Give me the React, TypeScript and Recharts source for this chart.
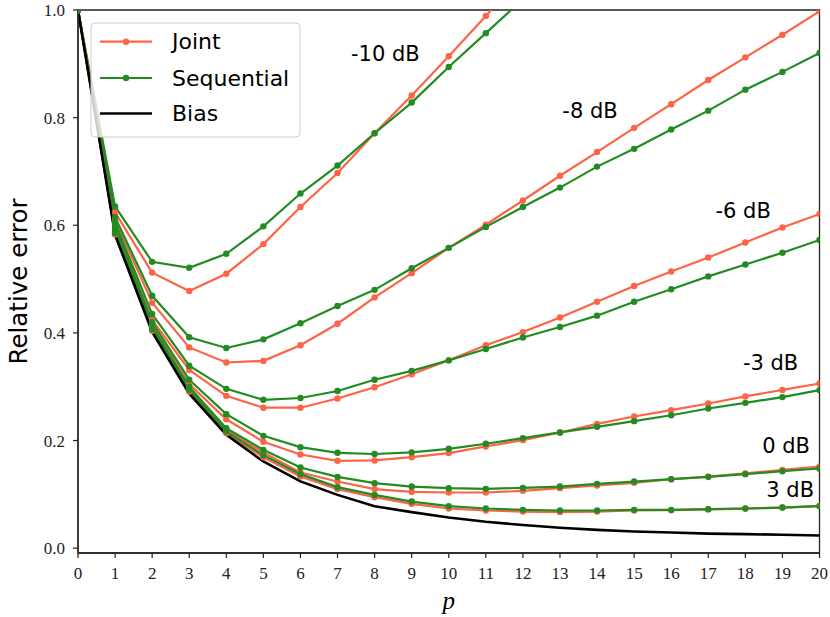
import React from "react";
import { LineChart, Line, XAxis, YAxis, ReferenceDot, ReferenceArea } from "recharts";

// x positions (p)
const pValues = [0, 1, 2, 3, 4, 5, 6, 7, 8, 9, 10, 11, 12, 13, 14, 15, 16, 17, 18, 19, 20];

const bias = [1.0, 0.582, 0.402, 0.287, 0.2105, 0.161, 0.124, 0.099, 0.078, 0.067, 0.057, 0.049, 0.043, 0.038, 0.034, 0.031, 0.029, 0.027, 0.026, 0.025, 0.0235];

const jointM10 = [1.0, 0.624, 0.512, 0.478, 0.51, 0.565, 0.634, 0.697, 0.771, 0.841, 0.914, 0.989, 1.064, null, null, null, null, null, null, null, null];
const seqM10 = [1.0, 0.635, 0.532, 0.521, 0.547, 0.598, 0.659, 0.711, 0.771, 0.828, 0.894, 0.957, 1.02, null, null, null, null, null, null, null, null];

const jointM8 = [1.0, 0.61, 0.456, 0.373, 0.345, 0.348, 0.377, 0.417, 0.466, 0.511, 0.558, 0.601, 0.646, 0.692, 0.736, 0.781, 0.825, 0.87, 0.912, 0.954, 0.9975];
const seqM8 = [1.0, 0.615, 0.469, 0.392, 0.372, 0.388, 0.418, 0.45, 0.48, 0.52, 0.558, 0.597, 0.634, 0.67, 0.709, 0.742, 0.778, 0.813, 0.852, 0.885, 0.92];

const jointM6 = [1.0, 0.6, 0.424, 0.331, 0.283, 0.261, 0.261, 0.278, 0.299, 0.323, 0.349, 0.377, 0.4015, 0.4286, 0.458, 0.487, 0.514, 0.54, 0.568, 0.596, 0.621];
const seqM6 = [1.0, 0.605, 0.435, 0.339, 0.296, 0.2757, 0.279, 0.292, 0.313, 0.3295, 0.349, 0.37, 0.3915, 0.411, 0.432, 0.458, 0.481, 0.505, 0.527, 0.549, 0.5725];

const jointM3 = [1.0, 0.593, 0.414, 0.305, 0.2395, 0.1976, 0.174, 0.1623, 0.163, 0.169, 0.1766, 0.189, 0.2007, 0.215, 0.231, 0.2446, 0.2565, 0.2688, 0.282, 0.294, 0.306];
const seqM3 = [1.0, 0.597, 0.42, 0.313, 0.249, 0.2087, 0.1877, 0.1772, 0.175, 0.178, 0.1846, 0.194, 0.2045, 0.215, 0.2255, 0.236, 0.247, 0.2595, 0.27, 0.2807, 0.2937];

const joint0 = [1.0, 0.587, 0.408, 0.296, 0.22, 0.1777, 0.1405, 0.1238, 0.1097, 0.1047, 0.1034, 0.1034, 0.1065, 0.1115, 0.1164, 0.1214, 0.128, 0.133, 0.139, 0.1455, 0.1517];
const seq0 = [1.0, 0.59, 0.412, 0.3, 0.223, 0.1827, 0.1498, 0.1325, 0.1208, 0.1145, 0.1115, 0.1102, 0.112, 0.1145, 0.1195, 0.1238, 0.1282, 0.1325, 0.1375, 0.143, 0.148];

const joint3 = [1.0, 0.583, 0.404, 0.291, 0.2137, 0.169, 0.133, 0.1097, 0.0948, 0.0823, 0.0737, 0.07, 0.068, 0.067, 0.068, 0.07, 0.0705, 0.072, 0.0735, 0.0755, 0.0785];
const seq3 = [1.0, 0.585, 0.407, 0.294, 0.2167, 0.1728, 0.1375, 0.1134, 0.099, 0.0866, 0.078, 0.0737, 0.0712, 0.07, 0.07, 0.0712, 0.0712, 0.0725, 0.0737, 0.0755, 0.078];

const xTicks = [0, 1, 2, 3, 4, 5, 6, 7, 8, 9, 10, 11, 12, 13, 14, 15, 16, 17, 18, 19, 20];
const yTicks = [0, 0.2, 0.4, 0.6, 0.8, 1.0];

// SNR annotations
const annText = ["-10 dB", "-8 dB", "-6 dB", "-3 dB", "0 dB", "3 dB"];
const annX = [8.29, 13.81, 17.94, 18.68, 19.1, 19.21];
const annY = [0.918, 0.8115, 0.6256, 0.344, 0.1907, 0.1084];

const legendLabels = ["Joint", "Sequential", "Bias"];

const JOINT = "#FF6347";
const SEQ = "#228B22";
const BIAS = "#000000";

const pairs: [string, (number | null)[], (number | null)[]][] = [
  ["m10", jointM10, seqM10],
  ["m8", jointM8, seqM8],
  ["m6", jointM6, seqM6],
  ["m3", jointM3, seqM3],
  ["p0", joint0, seq0],
  ["p3", joint3, seq3],
];

const rows = pValues.map((p, i) => {
  const r: Record<string, number | null> = { x: p, bias: bias[i] };
  pairs.forEach(([k, j, s]) => {
    r["j_" + k] = j[i];
    r["s_" + k] = s[i];
  });
  return r;
});

const tickStyle = { fontFamily: "'Liberation Serif', serif", fontSize: 17, fill: "#222" };

function Legend() {
  const colors = [JOINT, SEQ, BIAS];
  const rowY = [41.7, 78.0, 113.5];
  return (
    <svg width={830} height={617} style={{ position: "absolute", left: 0, top: 0, pointerEvents: "none" }}>
      <rect x={91} y={23} width={209} height={114} rx={4} ry={4} fill="rgba(255,255,255,0.8)" stroke="#cccccc" strokeWidth={1} />
      {legendLabels.map((lab, i) => (
        <g key={lab}>
          <line x1={100} x2={152} y1={rowY[i]} y2={rowY[i]} stroke={colors[i]} strokeWidth={i === 2 ? 2.6 : 2.2} />
          {i < 2 && <circle cx={126} cy={rowY[i]} r={3.2} fill={colors[i]} />}
          <text x={172} y={rowY[i]} dominantBaseline="central" fontFamily="'DejaVu Sans', sans-serif" fontSize={22} fill="#000">
            {lab}
          </text>
        </g>
      ))}
    </svg>
  );
}

export default function App() {
  return (
    <div style={{ position: "absolute", left: 0, top: 0, width: 830, height: 617, background: "#fff" }}>
      <LineChart width={830} height={617} data={rows} margin={{ top: 10, right: 10.5, left: 0, bottom: 0 }}>
        <XAxis
          dataKey="x"
          type="number"
          domain={[0, 20]}
          ticks={xTicks}
          interval={0}
          allowDataOverflow
          height={64}
          tickSize={5}
          tickMargin={9}
          tick={tickStyle}
          axisLine={{ stroke: "#222", strokeWidth: 1.3 }}
          tickLine={{ stroke: "#222", strokeWidth: 1.2 }}
          label={{ value: "p", position: "insideBottom", offset: 8, style: { fontFamily: "'Liberation Serif', serif", fontStyle: "italic", fontSize: 25, fill: "#000" } }}
        />
        <YAxis
          type="number"
          domain={[-0.009, 1.0]}
          ticks={yTicks}
          interval={0}
          allowDataOverflow
          width={78}
          tickSize={5}
          tickMargin={8}
          tick={tickStyle}
          tickFormatter={(v: number) => v.toFixed(1)}
          axisLine={{ stroke: "#222", strokeWidth: 1.3 }}
          tickLine={{ stroke: "#222", strokeWidth: 1.2 }}
          label={{
            content: (props: any) => {
              const vb = props.viewBox || { x: 0, y: 10, width: 78, height: 543 };
              const cx = vb.x + 26.7;
              const cy = vb.y + vb.height / 2;
              return (
                <text x={cx} y={cy} transform={`rotate(-90, ${cx}, ${cy})`} textAnchor="middle" fontFamily="'DejaVu Sans', sans-serif" fontSize={24.5} fill="#000">
                  Relative error
                </text>
              );
            },
          }}
        />
        {pairs.map(([k]) => [
          <Line
            key={"j_" + k}
            dataKey={"j_" + k}
            type="linear"
            stroke={JOINT}
            strokeWidth={2.2}
            dot={{ r: 3.2, fill: JOINT, stroke: JOINT, strokeWidth: 0 }}
            activeDot={false}
            isAnimationActive={false}
            connectNulls={false}
          />,
          <Line
            key={"s_" + k}
            dataKey={"s_" + k}
            type="linear"
            stroke={SEQ}
            strokeWidth={2.2}
            dot={{ r: 3.2, fill: SEQ, stroke: SEQ, strokeWidth: 0 }}
            activeDot={false}
            isAnimationActive={false}
            connectNulls={false}
          />,
        ])}
        <Line dataKey="bias" type="linear" stroke={BIAS} strokeWidth={2.6} dot={false} activeDot={false} isAnimationActive={false} />
        <ReferenceArea x1={0} x2={20} y1={-0.009} y2={1.0} fill="none" stroke="#222" strokeWidth={1.3} ifOverflow="visible" />
        {annText.map((t, i) => (
          <ReferenceDot
            key={t}
            x={annX[i]}
            y={annY[i]}
            r={0}
            ifOverflow="visible"
            shape={(p: any) => (
              <text x={p.cx} y={p.cy} textAnchor="middle" dominantBaseline="central" fontFamily="'DejaVu Sans', sans-serif" fontSize={21} fill="#000">
                {t}
              </text>
            )}
          />
        ))}
      </LineChart>
      <Legend />
    </div>
  );
}
